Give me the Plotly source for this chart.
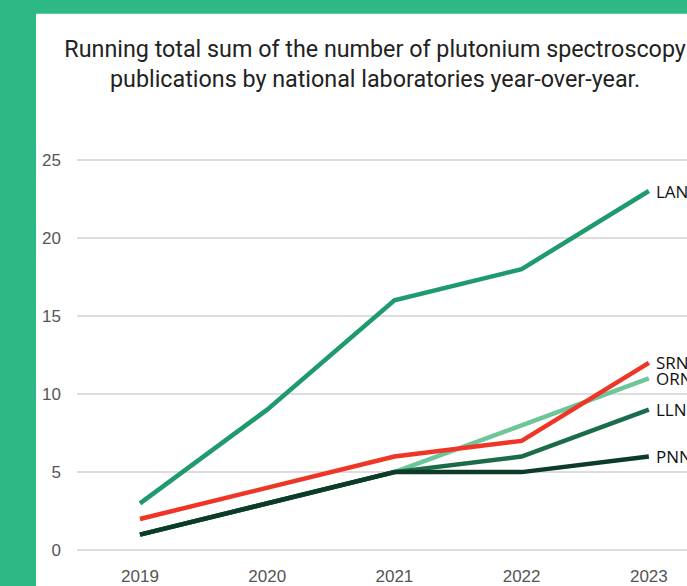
import plotly.graph_objects as go

years = [2019, 2020, 2021, 2022, 2023]
labs = ["LANL", "ORNL", "SRNL", "LLNL", "PNNL"]
lanl = [3, 9, 16, 18, 23]
ornl = [1, 3, 5, 8, 11]
srnl = [2, 4, 6, 7, 12]
llnl = [1, 3, 5, 6, 9]
pnnl = [1, 3, 5, 5, 6]
series = [lanl, ornl, srnl, llnl, pnnl]
colors = ["#1f9a6d", "#6cc699", "#ee3526", "#1b6c4a", "#0d3b27"]
y_ticks = [0, 5, 10, 15, 20, 25]

fig = go.Figure()
for name, vals, col in zip(labs, series, colors):
    fig.add_trace(go.Scatter(x=years, y=vals, mode="lines", name=name,
                             line=dict(color=col, width=4.5), showlegend=False,
                             hoverinfo="skip"))
    fig.add_annotation(x=years[-1], y=vals[-1], text=name, showarrow=False,
                       xanchor="left", yanchor="middle", xshift=5,
                       font=dict(family="Open Sans, DejaVu Sans, sans-serif", size=17, color="#111"))

fig.add_shape(type="rect", xref="paper", yref="paper", x0=-0.0672, x1=1.2, y0=-0.2, y1=1.3406,
              fillcolor="white", line=dict(width=0), layer="below")

fig.update_layout(
    width=687, height=586,
    paper_bgcolor="#2db884", plot_bgcolor="rgba(0,0,0,0)",
    margin=dict(l=77, r=0, t=152, b=23),
    title=dict(text="Running total sum of the number of plutonium spectroscopy<br>publications by national laboratories year-over-year.",
               x=0.546, xanchor="center", y=0.903, yanchor="middle",
               font=dict(family="Roboto, sans-serif", size=23.3, color="#222")),
    xaxis=dict(range=[2018.505, 2023.3], tickvals=years, showgrid=False, zeroline=False,
               showline=False, ticks="", ticklabelstandoff=6,
               tickfont=dict(family="Liberation Sans, Arial, sans-serif", size=17, color="#555")),
    yaxis=dict(range=[-0.5, 25.5], tickvals=y_ticks, showgrid=True, gridcolor="#dddddd",
               gridwidth=1.5, zeroline=False, showline=False, ticks="", ticklabelstandoff=15,
               tickfont=dict(family="Liberation Sans, Arial, sans-serif", size=17, color="#555")),
)
fig.write_html("out.html")
